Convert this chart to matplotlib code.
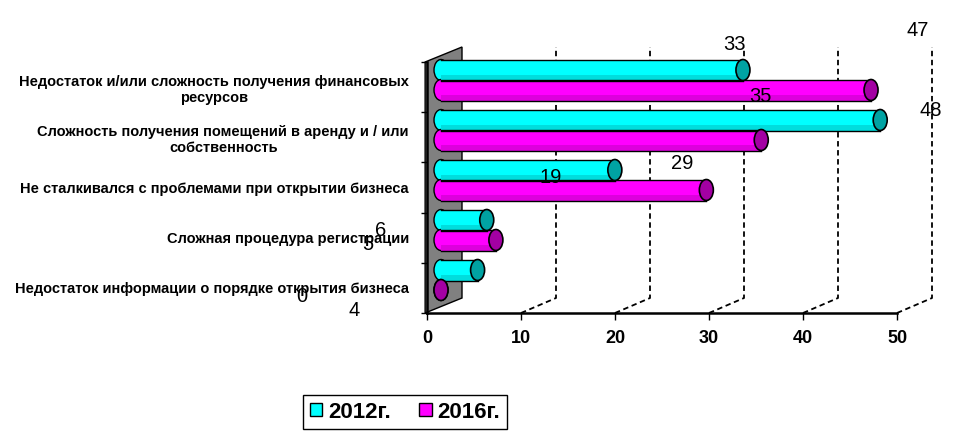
import matplotlib
matplotlib.use("Agg")
import matplotlib.pyplot as plt
from matplotlib.patches import Rectangle, Ellipse, Polygon, Patch

plt.rcParams['font.family'] = ['Liberation Sans', 'DejaVu Sans']

# данные
categories = [
    "Недостаток и/или сложность получения финансовых\nресурсов",
    "Сложность получения помещений в аренду и / или\nсобственность",
    "Не сталкивался с проблемами при открытии бизнеса",
    "Сложная процедура регистрации",
    "Недостаток информации о порядке открытия бизнеса",
]
series_names = ["2012г.", "2016г."]
values_2012 = [33, 48, 19, 5, 4]
values_2016 = [47, 35, 29, 6, 0]
xticks = [0, 10, 20, 30, 40, 50]

body_colors = ["#00FFFF", "#FF00FF"]
cap_colors = ["#00A3A3", "#A300A3"]
shade_colors = ["#009090", "#900090"]

W, H = 976, 432
fig = plt.figure(figsize=(W / 100, H / 100), dpi=100)

def box(left, top, right, bottom):
    return [left / W, 1 - bottom / H, (right - left) / W, (bottom - top) / H]

# передняя плоскость с осями
ax = fig.add_axes(box(427, 62, 897, 313))
ax.set_xlim(0, 50)
ax.set_ylim(0, 5)
ax.patch.set_alpha(0)
for s in ['top', 'right']:
    ax.spines[s].set_visible(False)
ax.spines['left'].set_linewidth(1.8)
ax.spines['bottom'].set_linewidth(1.8)
ax.set_xticks(xticks)
ax.set_xticklabels([str(t) for t in xticks], fontsize=13, fontweight='bold')
ax.tick_params(axis='x', direction='out', length=5, width=1, pad=7)
ax.set_yticks(range(6))
ax.set_yticklabels([])
ax.tick_params(axis='y', direction='out', length=4.5, width=1)
ax.set_yticks([4.5 - i for i in range(len(categories))], minor=True)
ax.set_yticklabels(categories, minor=True, fontsize=10.5, fontweight='bold',
                   multialignment='center')
ax.tick_params(axis='y', which='minor', length=0, pad=13)

# глубина (смещение задней стенки)
dx, dy = 35 / 9.4, 15 / 50.2

# левая стенка
wall = Polygon([(-0.2, 0), (-0.2, 5), (dx, 5 + dy), (dx, dy)], closed=True,
               facecolor='#808080', edgecolor='black', lw=1, clip_on=False, zorder=1)
ax.add_patch(wall)

# сетка по задней стенке
for t in xticks[1:]:
    ax.plot([t, t + dx, t + dx], [0, dy, 5 + dy], color='black', lw=1.3,
            ls=(0, (3, 2)), clip_on=False, zorder=1)

# цилиндры
bx = fig.add_axes(box(441, 55, 898.5, 305))
bx.set_xlim(0, 50)
bx.set_ylim(len(categories) - 0.5, -0.5)
bx.axis('off')
bx.patch.set_alpha(0)

bar_h = 0.42
cap_w = 14 / 9.15
for k, vals in enumerate([values_2012, values_2016]):
    off = -0.2 if k == 0 else 0.2
    for i, v in enumerate(vals):
        yc = i + off
        bx.add_patch(Ellipse((0, yc), cap_w, bar_h, facecolor=body_colors[k],
                             edgecolor='black', lw=1, clip_on=False, zorder=2))
        bx.add_patch(Rectangle((0, yc - bar_h / 2), v, bar_h, facecolor=body_colors[k],
                               edgecolor='none', clip_on=False, zorder=3))
        bx.add_patch(Rectangle((0, yc + bar_h * 0.25), v, bar_h * 0.25,
                               facecolor=shade_colors[k], alpha=0.3,
                               edgecolor='none', clip_on=False, zorder=3))
        bx.plot([0, v], [yc - bar_h / 2, yc - bar_h / 2], color='black', lw=1,
                clip_on=False, zorder=4)
        bx.plot([0, v], [yc + bar_h / 2, yc + bar_h / 2], color='black', lw=1,
                clip_on=False, zorder=4)
        bx.add_patch(Ellipse((v, yc), cap_w, bar_h, facecolor=cap_colors[k],
                             edgecolor='black', lw=1.2, clip_on=False, zorder=5))

# подписи значений (смещены, как в исходнике)
lx = fig.add_axes(box(302, 3.7, 957, 337.2))
lx.set_xlim(0, 50)
lx.set_ylim(len(categories) - 0.5, -0.5)
lx.axis('off')
lx.patch.set_alpha(0)
for i in range(len(categories)):
    lx.text(values_2016[i], i - 0.105, str(values_2016[i]), ha='center', va='center',
            fontsize=14.5, zorder=10)
    lx.text(values_2012[i], i + 0.105, str(values_2012[i]), ha='center', va='center',
            fontsize=14.5, zorder=10)

# легенда
handles = [Patch(facecolor=body_colors[k], edgecolor='black', lw=1) for k in range(2)]
leg = fig.legend(handles, series_names, loc='center', bbox_to_anchor=(405 / W, 1 - 412 / H),
                 ncol=2, fancybox=False, edgecolor='black', framealpha=1,
                 prop={'size': 16, 'weight': 'bold'}, handlelength=0.55, handleheight=0.55,
                 handletextpad=0.25, columnspacing=1.3, borderpad=0.3, borderaxespad=0)
leg.get_frame().set_linewidth(1)

fig.savefig("out.png", dpi=100)
